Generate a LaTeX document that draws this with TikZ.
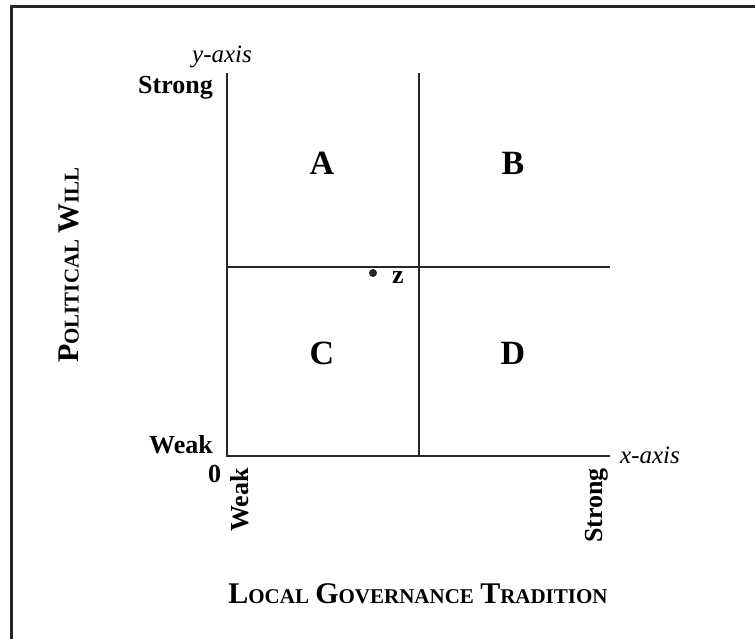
\documentclass[tikz,border=0pt]{standalone}
\usepackage{fontspec}
\setmainfont{Liberation Serif}
\usetikzlibrary{positioning}

\newcommand{\smcap}[2]{{\fontsize{30}{36}\selectfont #1}{\fontsize{21}{25}\selectfont #2}}

\begin{document}
\begin{tikzpicture}[
    x=1pt, y=-1pt,
    frame/.style={draw=black!85, line width=3pt},
    axisline/.style={draw=black!85, line width=2.8pt},
    quad/.style={inner sep=0pt, font=\fontsize{34}{40}\selectfont\bfseries},
    lbl/.style={inner sep=0pt, font=\fontsize{26}{31}\selectfont\bfseries},
    axname/.style={inner sep=0pt, font=\fontsize{25}{30}\selectfont\itshape},
    title/.style={inner sep=0pt, font=\fontsize{25}{30}\selectfont\bfseries},
    dot/.style={circle, fill=black!85, inner sep=0pt, minimum size=8pt}
]
\useasboundingbox (0,0) rectangle (755,639);

% Outer frame (only top and left edges show)
\draw[frame] (760,7) -- (11.5,7) -- (11.5,645);

% Axes and quadrant lines
\coordinate (origin) at (227,456);
\coordinate (ytop) at (227,73);
\coordinate (xend) at (610,456);
\coordinate (midtop) at (419,73);
\coordinate (midbot) at (419,456);
\coordinate (midleft) at (227,267);
\coordinate (midright) at (610,267);

\draw[axisline] (ytop) -- (origin) -- (xend);
\draw[axisline] (midtop) -- (midbot);
\draw[axisline] (midleft) -- (midright);

% Quadrant letters
\node[quad] (qa) at (322,163) {A};
\node[quad] (qb) at (513,163) {B};
\node[quad] (qc) at (322,353) {C};
\node[quad] (qd) at (513,353) {D};

% Point z
\node[dot] (zdot) at (373,273) {};
\node[lbl] (zlabel) at (398,278) {z};

% y-axis labels
\node[axname, anchor=base] (yname) at (222,63) {y-axis};
\node[lbl, anchor=base east] (ystrong) at (213,94) {Strong};
\node[lbl, anchor=base east] (yweak) at (213,453) {Weak};
\node[lbl] (zero) at (214.5,473.5) {0};

% x-axis labels
\node[axname, anchor=base west] (xname) at (620,463) {x-axis};
\node[lbl, rotate=90, anchor=base east] (xweak) at (248,468) {Weak};
\node[lbl, rotate=90, anchor=base east] (xstrong) at (602,468) {Strong};

% Axis titles
\node[title, rotate=90] (ytitle) at (69,265) {\smcap{P}{OLITICAL} \smcap{W}{ILL}};
\node[title, anchor=base] (xtitle) at (418,603) {\smcap{L}{OCAL} \smcap{G}{OVERNANCE} \smcap{T}{RADITION}};

\end{tikzpicture}
\end{document}
